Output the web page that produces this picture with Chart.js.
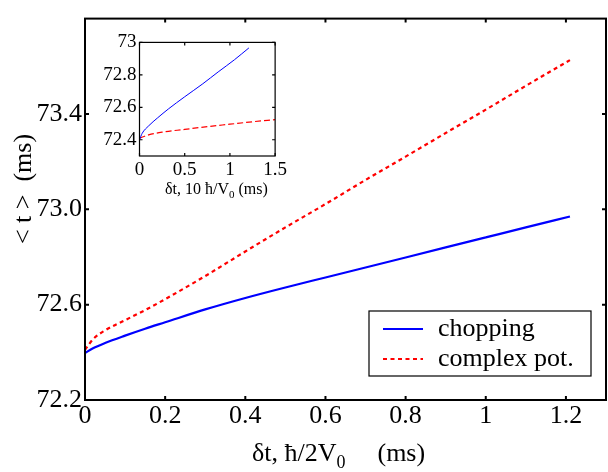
<!DOCTYPE html>
<html><head><meta charset="utf-8">
<script src="https://cdn.jsdelivr.net/npm/chart.js@4"></script>
<style>
html,body{margin:0;padding:0;background:#fff;}
#wrap{position:relative;width:608px;height:472px;overflow:hidden;}
#main{position:absolute;left:0;top:0;}
#inset{position:absolute;left:95px;top:28px;}
</style></head><body>
<div id="wrap"><canvas id="main" width="608" height="472"></canvas><canvas id="inset" width="195" height="176"></canvas></div>
<script>
// ---- main plot data ----
const chopX = [0, 0.02, 0.05, 0.1, 0.15, 0.2, 0.3, 0.4, 0.5, 0.6, 0.7, 0.8, 0.9, 1.0, 1.1, 1.21];
const chopY = [72.397, 72.417, 72.439, 72.47, 72.499, 72.526, 72.58, 72.628, 72.672, 72.714, 72.756, 72.798, 72.84, 72.882, 72.924, 72.970];
const cpotX = [0, 0.02, 0.05, 0.1, 0.15, 0.2, 0.3, 0.4, 0.5, 0.6, 0.7, 0.8, 0.9, 1.0, 1.1, 1.21];
const cpotY = [72.41, 72.455, 72.492, 72.535, 72.577, 72.623, 72.72, 72.823, 72.924, 73.022, 73.123, 73.221, 73.32, 73.418, 73.518, 73.626];
const seriesNames = ['chopping', 'complex pot.'];
const xTicks = [0, 0.2, 0.4, 0.6, 0.8, 1, 1.2];
const xTickLabels = ['0', '0.2', '0.4', '0.6', '0.8', '1', '1.2'];
const yTicks = [72.2, 72.4, 72.6, 72.8, 73.0, 73.2, 73.4, 73.6];
const yTickLabels = ['72.2', null, '72.6', null, '73.0', null, '73.4', null];
// ---- inset data ----
const insChopX = [0, 0.03, 0.1, 0.2, 0.32, 0.5, 0.7, 0.87, 1.05, 1.21];
const insChopY = [72.4, 72.44, 72.485, 72.535, 72.59, 72.665, 72.745, 72.818, 72.893, 72.966];
const insCpotX = [0, 0.1, 0.25, 0.5, 0.75, 1.0, 1.25, 1.5];
const insCpotY = [72.41, 72.43, 72.447, 72.464, 72.481, 72.496, 72.511, 72.524];
const insXTicks = [0, 0.5, 1, 1.5];
const insXTickLabels = ['0', '0.5', '1', '1.5'];
const insYTicks = [72.4, 72.6, 72.8, 73.0];
const insYTickLabels = ['72.4', '72.6', '72.8', '73'];

const FONT = "'Liberation Serif', 'Times New Roman', serif";
const BLUE = '#0000ff', RED = '#ff0000';
const pts = (xs, ys) => xs.map((x, i) => ({x, y: ys[i]}));

function boxPlugin(id, lw, tl) {
  return {
    id,
    afterDatasetsDraw(chart) {
      const {ctx, chartArea: a, scales: {x, y}} = chart;
      ctx.save();
      ctx.strokeStyle = '#000';
      ctx.lineWidth = lw;
      ctx.beginPath();
      x.ticks.forEach(t => {
        const p = x.getPixelForValue(t.value);
        ctx.moveTo(p, a.bottom); ctx.lineTo(p, a.bottom - tl);
        ctx.moveTo(p, a.top); ctx.lineTo(p, a.top + tl);
      });
      y.ticks.forEach(t => {
        const p = y.getPixelForValue(t.value);
        ctx.moveTo(a.left, p); ctx.lineTo(a.left + tl, p);
        ctx.moveTo(a.right, p); ctx.lineTo(a.right - tl, p);
      });
      ctx.stroke();
      ctx.strokeRect(a.left, a.top, a.right - a.left, a.bottom - a.top);
      ctx.restore();
    }
  };
}

function drawSubTitle(ctx, parts, x, y, size, subSize, subDy) {
  // parts: [text, sub, gap, text2]
  ctx.font = size + 'px ' + FONT;
  const w1 = ctx.measureText(parts[0]).width;
  ctx.font = subSize + 'px ' + FONT;
  const ws = ctx.measureText(parts[1]).width;
  ctx.font = size + 'px ' + FONT;
  ctx.fillText(parts[0], x, y);
  ctx.font = subSize + 'px ' + FONT;
  ctx.fillText(parts[1], x + w1, y + subDy);
  ctx.font = size + 'px ' + FONT;
  ctx.fillText(parts[3], x + w1 + ws + parts[2], y);
}

const mainDecor = {
  id: 'mainDecor',
  afterDraw(chart) {
    const {ctx} = chart;
    ctx.save();
    ctx.fillStyle = '#000';
    ctx.textBaseline = 'alphabetic';
    ctx.textAlign = 'left';
    // x title
    drawSubTitle(ctx, ['\u03B4t, \u0127/2V', '0', 32, '(ms)'], 252, 461, 26, 18, 7);
    // y title
    ctx.save();
    ctx.translate(31, 189);
    ctx.rotate(-Math.PI / 2);
    ctx.font = '26px ' + FONT;
    ctx.textAlign = 'center';
    ctx.fillText('< t >  (ms)', 0, 0);
    ctx.restore();
    // legend
    const bx = 369, by = 311, bw = 222, bh = 65;
    ctx.fillStyle = '#fff';
    ctx.fillRect(bx, by, bw, bh);
    ctx.strokeStyle = '#000';
    ctx.lineWidth = 1.2;
    ctx.strokeRect(bx, by, bw, bh);
    chart.data.datasets.forEach((ds, i) => {
      const ly = by + 18 + i * 30;
      ctx.beginPath();
      ctx.strokeStyle = ds.borderColor;
      ctx.lineWidth = ds.borderWidth;
      ctx.setLineDash(ds.borderDash || []);
      ctx.moveTo(bx + 14, ly); ctx.lineTo(bx + 54, ly);
      ctx.stroke();
      ctx.setLineDash([]);
      ctx.fillStyle = '#000';
      ctx.font = '26px ' + FONT;
      ctx.textBaseline = 'middle';
      ctx.fillText(ds.label, bx + 69, ly);
    });
    ctx.restore();
  }
};

const insetDecor = {
  id: 'insetDecor',
  beforeDatasetsDraw(chart) {
    const {ctx, chartArea: a} = chart;
    ctx.save();
    ctx.fillStyle = '#fff';
    ctx.fillRect(a.left, a.top, a.right - a.left, a.bottom - a.top);
    ctx.restore();
  },
  afterDraw(chart) {
    const {ctx} = chart;
    ctx.save();
    ctx.fillStyle = '#000';
    ctx.textBaseline = 'alphabetic';
    drawSubTitle(ctx, ['\u03B4t, 10 \u0127/V', '0', 4, '(ms)'], 70, 166, 16, 11, 4);
    ctx.restore();
  }
};

function scaleX(min, max, ticks, labels, size, pad, h) {
  return {
    type: 'linear', min, max,
    afterBuildTicks: s => { s.ticks = ticks.map(v => ({value: v})); },
    afterFit: s => { s.height = h; },
    grid: {display: false, drawTicks: false},
    border: {display: false},
    ticks: {
      color: '#000', font: {family: FONT, size}, padding: pad,
      autoSkip: false, maxRotation: 0, minRotation: 0,
      callback: (v, i) => labels[i]
    }
  };
}
function scaleY(min, max, ticks, labels, size, pad, w) {
  return {
    type: 'linear', min, max,
    afterBuildTicks: s => { s.ticks = ticks.map(v => ({value: v})); },
    afterFit: s => { s.width = w; },
    grid: {display: false, drawTicks: false},
    border: {display: false},
    ticks: {
      color: '#000', font: {family: FONT, size}, padding: pad,
      autoSkip: false,
      callback: (v, i) => labels[i]
    }
  };
}

new Chart(document.getElementById('main'), {
  type: 'line',
  data: {
    datasets: [
      {label: seriesNames[0], data: pts(chopX, chopY), borderColor: BLUE, borderWidth: 2.2,
       pointRadius: 0, cubicInterpolationMode: 'monotone', fill: false},
      {label: seriesNames[1], data: pts(cpotX, cpotY), borderColor: RED, borderWidth: 2.2,
       borderDash: [4, 3.5], pointRadius: 0, cubicInterpolationMode: 'monotone', fill: false}
    ]
  },
  options: {
    responsive: false, animation: false, devicePixelRatio: 1,
    layout: {padding: {left: 0, right: 2, top: 8, bottom: 0}},
    plugins: {legend: {display: false}, tooltip: {enabled: false}},
    scales: {
      x: scaleX(0, 1.3, xTicks, xTickLabels, 26, 1, 72),
      y: scaleY(72.2, 73.8, yTicks, yTickLabels, 26, 3, 85)
    }
  },
  plugins: [boxPlugin('mainBox', 2, 4), mainDecor]
});

new Chart(document.getElementById('inset'), {
  type: 'line',
  data: {
    datasets: [
      {label: seriesNames[0], data: pts(insChopX, insChopY), borderColor: BLUE, borderWidth: 1,
       pointRadius: 0, cubicInterpolationMode: 'monotone', fill: false},
      {label: seriesNames[1], data: pts(insCpotX, insCpotY), borderColor: RED, borderWidth: 1.2,
       borderDash: [6, 3], pointRadius: 0, cubicInterpolationMode: 'monotone', fill: false}
    ]
  },
  options: {
    responsive: false, animation: false, devicePixelRatio: 1,
    layout: {padding: {left: 0, right: 14, top: 12, bottom: 0}},
    plugins: {legend: {display: false}, tooltip: {enabled: false}},
    scales: {
      x: scaleX(0, 1.5, insXTicks, insXTickLabels, 19, 3, 48),
      y: scaleY(72.3, 73.0, insYTicks, insYTickLabels, 19, 3, 44.5)
    }
  },
  plugins: [boxPlugin('insetBox', 1.2, 3), insetDecor]
});
</script>
</body></html>
